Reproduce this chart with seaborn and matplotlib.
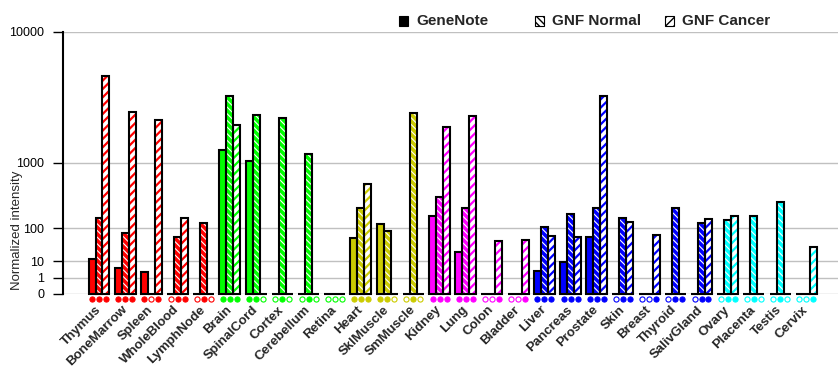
import numpy as np
import pandas as pd
import matplotlib
matplotlib.use('Agg')
import matplotlib.pyplot as plt
from matplotlib.patches import Rectangle
import seaborn as sns

# tissues and group colours
tissues = ['Thymus', 'BoneMarrow', 'Spleen', 'WholeBlood', 'LymphNode',
           'Brain', 'SpinalCord', 'Cortex', 'Cerebellum', 'Retina',
           'Heart', 'SklMuscle', 'SmMuscle',
           'Kidney', 'Lung', 'Colon', 'Bladder',
           'Liver', 'Pancreas', 'Prostate', 'Skin', 'Breast', 'Thyroid', 'SalivGland',
           'Ovary', 'Placenta', 'Testis', 'Cervix']
tissue_colors = (['#FF0000'] * 5 + ['#00FF00'] * 5 + ['#CCCC00'] * 3 +
                 ['#FF00FF'] * 4 + ['#0000FF'] * 7 + ['#00FFFF'] * 4)

sources = ['GeneNote', 'GNF Normal', 'GNF Cancer']

# normalized intensities
genenote = [12, 4.7, 2.5, 0, 0, 1370, 1040, 0, 0, 0, 59, 123, 0,
            176, 23, 0, 0, 2.9, 9.3, 62, 0, 0, 0, 0, 0, 0, 0, 0]
gnf_normal = [165, 78, 0, 62, 129, 3930, 2830, 2660, 1250, 0, 246, 87, 2910,
              366, 246, 0, 0, 108, 195, 246, 164, 0, 246, 129, 147, 179, 304, 0]
gnf_cancer = [5400, 2960, 2550, 164, 0, 2320, 0, 0, 0, 0, 555, 0, 0,
              2230, 2770, 50, 53, 68, 62, 3930, 135, 71, 0, 154, 179, 0, 0, 33]

# present calls (filled / open dots under the bars)
present_gn = [1, 1, 1, 0, 0, 1, 1, 0, 0, 0, 1, 1, 0, 1, 1, 0, 0, 1, 1, 1, 0, 0, 0, 0, 0, 0, 0, 0]
present_nl = [1, 1, 0, 1, 1, 1, 1, 1, 1, 0, 1, 1, 1, 1, 1, 0, 0, 1, 1, 1, 1, 0, 1, 1, 1, 1, 1, 0]
present_ca = [1, 1, 1, 1, 0, 1, 0, 0, 0, 0, 1, 0, 0, 1, 1, 1, 1, 1, 1, 1, 1, 1, 1, 1, 1, 0, 0, 1]

ytick_vals = [0, 1, 10, 100, 1000, 10000]

df = pd.DataFrame({
    'tissue': tissues * 3,
    'source': np.repeat(sources, len(tissues)),
    'value': genenote + gnf_normal + gnf_cancer,
})

sns.set_theme(style='white')
plt.rcParams['font.family'] = ['Liberation Sans', 'DejaVu Sans']
plt.rcParams['hatch.linewidth'] = 1.0

fig = plt.figure(figsize=(8.4, 3.85), dpi=100)
ax = fig.add_axes([0.075, 0.2364, 0.9226, 0.6805])

sns.barplot(data=df, x='tissue', y='value', hue='source', order=tissues,
            hue_order=sources, errorbar=None, width=0.8, saturation=1,
            legend=False, ax=ax)

EDGE = 1.5
hatches = [None, '\\' * 5, '/' * 4]
hatch_lw = [1.0, 0.8, 1.6]
for k, cont in enumerate(ax.containers):
    for i, bar in enumerate(cont):
        c = tissue_colors[i]
        if k == 0:
            bar.set_facecolor(c)
            bar.set_edgecolor(c)
        elif k == 1:
            bar.set_facecolor(c)
            bar.set_edgecolor('white')
            bar.set_hatch(hatches[k])
        else:
            bar.set_facecolor('white')
            bar.set_edgecolor(c)
            bar.set_hatch(hatches[k])
        bar.set_linewidth(0)
        if hasattr(bar, 'set_hatch_linewidth'):
            bar.set_hatch_linewidth(hatch_lw[k])
        ax.add_patch(Rectangle(bar.get_xy(), bar.get_width(), bar.get_height(),
                               fc='none', ec='black', lw=EDGE, clip_on=False, zorder=3))

# transformed scale: y ~ v ** log10(2)
P = np.log10(2)
ax.set_yscale('function', functions=(lambda v: np.sign(v) * np.abs(v) ** P,
                                     lambda v: np.sign(v) * np.abs(v) ** (1 / P)))
ax.set_ylim(0, 10000)
ax.set_xlim(-1.374, 28.21)
ax.set_yticks(ytick_vals)
ax.set_yticklabels([str(v) for v in ytick_vals], fontsize=9)
ax.yaxis.grid(True, color='#C0C0C0', lw=1)
ax.set_axisbelow(True)

for s in ['top', 'right', 'bottom']:
    ax.spines[s].set_visible(False)
ax.spines['left'].set_linewidth(1.5)
ax.spines['left'].set_color('black')
ax.tick_params(axis='y', left=True, length=7, width=1, pad=6.5, colors='black')
ax.tick_params(axis='x', bottom=False, length=0, pad=10)
plt.setp(ax.get_xticklabels(), rotation=45, ha='right', va='center',
         rotation_mode='anchor', fontsize=9.5, fontweight='bold')

ax.set_xlabel('')
ax.set_ylabel('Normalized intensity', fontsize=9.5)
ax.yaxis.set_label_coords(-0.0516, 0.244)

# present / absent dots
trans = ax.get_xaxis_transform()
for k, flags in enumerate([present_gn, present_nl, present_ca]):
    for i, bar in enumerate(ax.containers[k]):
        c = tissue_colors[i]
        ax.plot(bar.get_x() + bar.get_width() / 2, -0.018, marker='o', ms=3.7,
                mfc=c if flags[i] else 'white', mec=c, mew=0.8,
                transform=trans, clip_on=False)

# legend on top
leg_x = [399, 535, 665]
for j, name in enumerate(sources):
    x0 = leg_x[j] / 840
    sq = Rectangle((x0, 1 - 25.5 / 385), 9 / 840, 9 / 385, transform=fig.transFigure,
                   fc='black' if j == 0 else 'white', ec='black', lw=0.8,
                   hatch=hatches[j])
    fig.add_artist(sq)
    fig.text(x0 + 17 / 840, 1 - 21 / 385, name, fontsize=11, fontweight='bold',
             va='center', ha='left')

fig.savefig('out.png', dpi=100, facecolor='white')
